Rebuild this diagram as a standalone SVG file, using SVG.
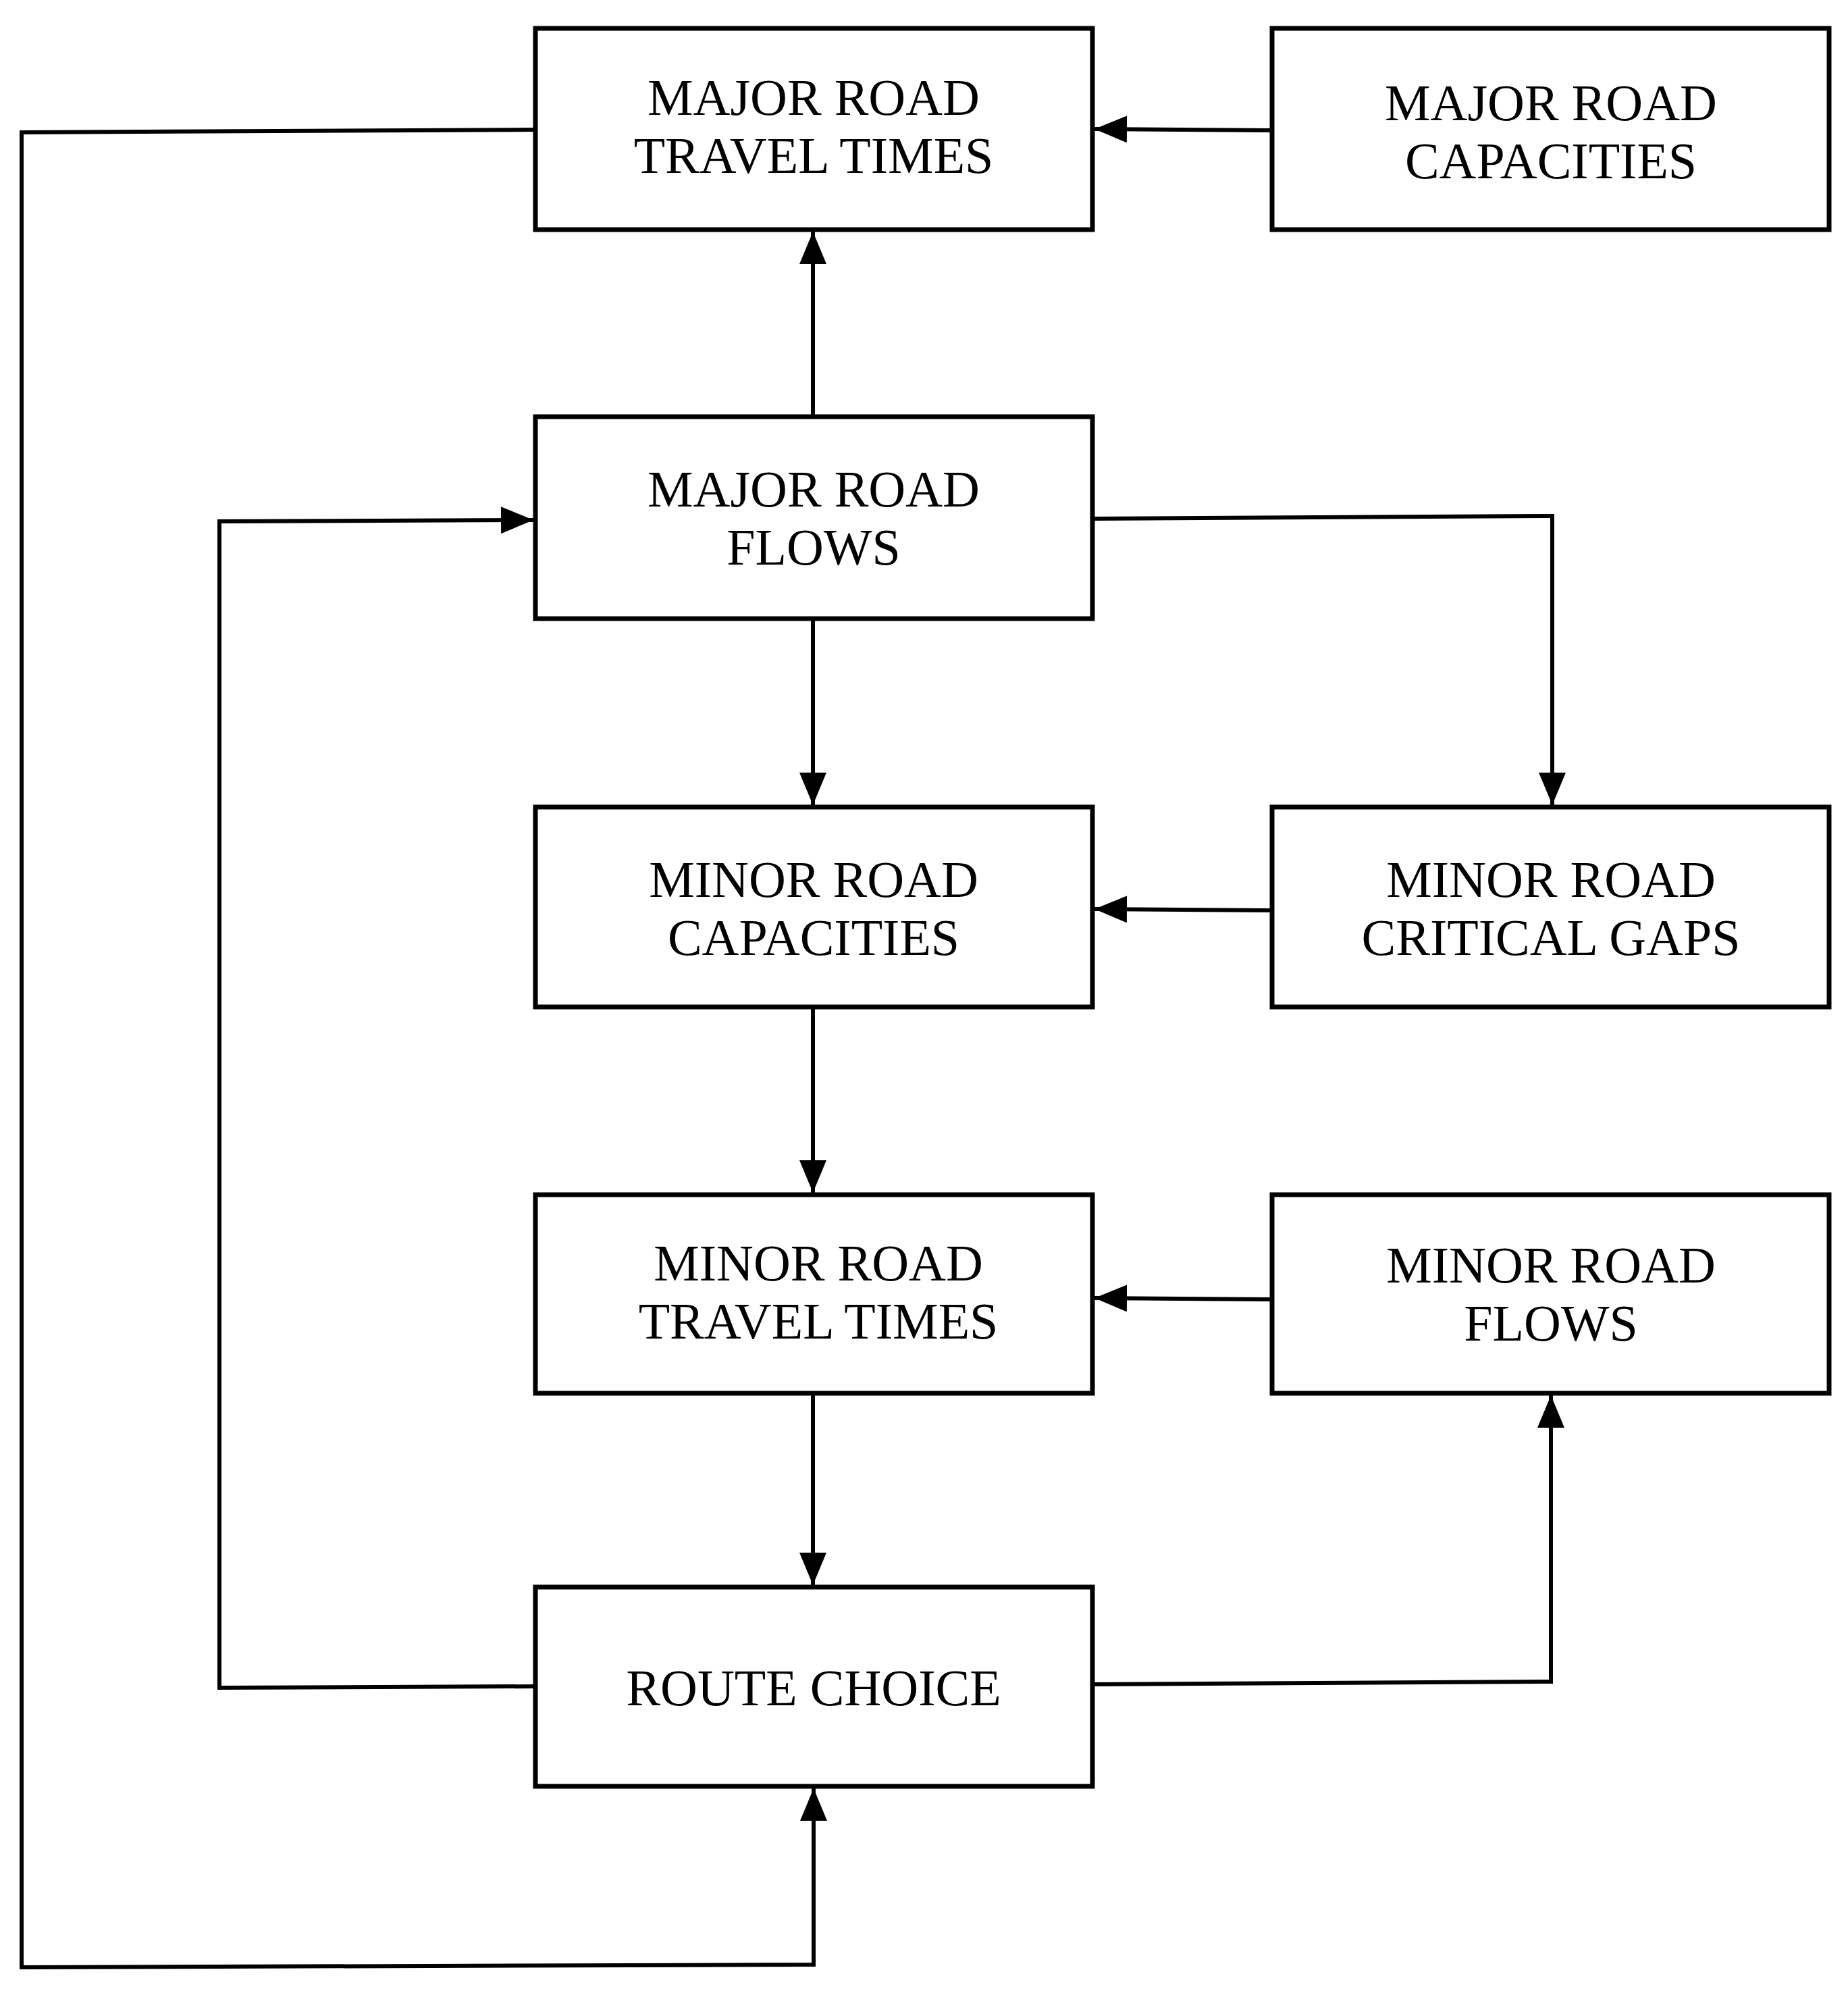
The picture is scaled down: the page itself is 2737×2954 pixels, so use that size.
<svg xmlns="http://www.w3.org/2000/svg" width="2737" height="2954" viewBox="0 0 2737 2954">
<style>
.b{fill:#fff;stroke:#000;stroke-width:7}
.t{font-family:"Liberation Serif",serif;font-size:76px;text-anchor:middle;fill:#000}
.c{fill:none;stroke:#000;stroke-width:6}
</style>
<defs><marker id="a" markerUnits="userSpaceOnUse" markerWidth="50" markerHeight="40" refX="48" refY="20" orient="auto"><path d="M0,0L48,20L0,40Z" fill="#000"/></marker></defs>
<rect width="2737" height="2954" fill="#fff"/>
<g id="n1"><rect class="b" x="793" y="42" width="825" height="298"/><text class="t" x="1205" y="170">MAJOR ROAD</text><text class="t" x="1205" y="256">TRAVEL TIMES</text></g>
<g id="n2"><rect class="b" x="1884" y="42" width="825" height="298"/><text class="t" x="2297" y="178">MAJOR ROAD</text><text class="t" x="2297" y="264">CAPACITIES</text></g>
<g id="n3"><rect class="b" x="793" y="617" width="825" height="299"/><text class="t" x="1205" y="750">MAJOR ROAD</text><text class="t" x="1205" y="836">FLOWS</text></g>
<g id="n4"><rect class="b" x="793" y="1195" width="825" height="296"/><text class="t" x="1205" y="1328">MINOR ROAD</text><text class="t" x="1205" y="1414">CAPACITIES</text></g>
<g id="n5"><rect class="b" x="1884" y="1195" width="825" height="296"/><text class="t" x="2297" y="1328">MINOR ROAD</text><text class="t" x="2297" y="1414">CRITICAL GAPS</text></g>
<g id="n6"><rect class="b" x="793" y="1769" width="825" height="294"/><text class="t" x="1212" y="1896">MINOR ROAD</text><text class="t" x="1212" y="1982">TRAVEL TIMES</text></g>
<g id="n7"><rect class="b" x="1884" y="1769" width="825" height="294"/><text class="t" x="2297" y="1899">MINOR ROAD</text><text class="t" x="2297" y="1985">FLOWS</text></g>
<g id="n8"><rect class="b" x="793" y="2350" width="825" height="295"/><text class="t" x="1205" y="2525">ROUTE CHOICE</text></g>
<g id="connectors">
<path class="c" d="M1884,193L1621,191" marker-end="url(#a)"/>
<path class="c" d="M1204,617L1204,343" marker-end="url(#a)"/>
<path class="c" d="M1204,916L1204,1192" marker-end="url(#a)"/>
<path class="c" d="M1618,768L2299,764L2299,1192" marker-end="url(#a)"/>
<path class="c" d="M1884,1348L1621,1346" marker-end="url(#a)"/>
<path class="c" d="M1204,1491L1204,1766" marker-end="url(#a)"/>
<path class="c" d="M1884,1924L1621,1922" marker-end="url(#a)"/>
<path class="c" d="M1204,2063L1204,2347" marker-end="url(#a)"/>
<path class="c" d="M1618,2494L2297,2490L2297,2066" marker-end="url(#a)"/>
<path class="c" d="M793,2497L325,2499L325,772L790,770" marker-end="url(#a)"/>
<path class="c" d="M793,192L32,196L32,2913L1205,2909L1205,2648" marker-end="url(#a)"/>
</g>
</svg>
